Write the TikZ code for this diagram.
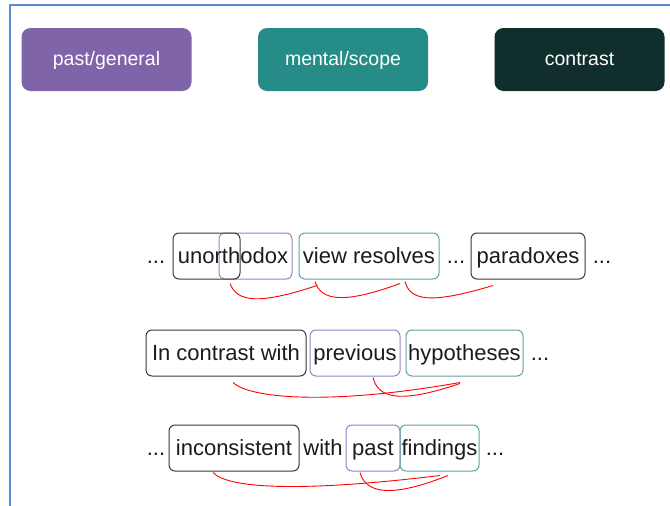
\documentclass[tikz,border=0pt]{standalone}
\usepackage{fontspec}
\setmainfont{Liberation Sans}
\usetikzlibrary{calc}
\definecolor{pastfill}{HTML}{8064AA}
\definecolor{mentalfill}{HTML}{268C87}
\definecolor{contrastfill}{HTML}{0F2E2C}
\definecolor{pastline}{HTML}{9A82C4}
\definecolor{mentalline}{HTML}{5CA5A0}
\definecolor{contrastline}{HTML}{383838}
\definecolor{framecol}{HTML}{5B8BD0}
\definecolor{inkcol}{HTML}{1A1A22}
\begin{document}
\begin{tikzpicture}[x=1pt,y=-1pt,
  legend/.style={rounded corners=9pt, minimum height=63pt, minimum width=170pt,
    inner sep=0pt, text=white, text height=14pt, text depth=3pt,
    font=\fontsize{19.5}{22}\selectfont},
  tok/.style={draw, rounded corners=6pt, line width=1pt, minimum height=46pt,
    inner sep=0pt, text=inkcol, text height=17pt, text depth=3pt,
    font=\fontsize{22}{26}\selectfont},
  word/.style={inner sep=0pt, text=inkcol, text height=17pt, text depth=3pt,
    font=\fontsize{22}{26}\selectfont},
  pastbox/.style={tok, draw=pastline},
  mentalbox/.style={tok, draw=mentalline},
  contrastbox/.style={tok, draw=contrastline},
  arc/.style={red, line width=0.9pt}]
\useasboundingbox (0,0) rectangle (670,506);
% frame
\draw[framecol, line width=1.6pt] (10,506) -- (10,5) -- (670,5);

% legend
\node[legend, fill=pastfill]     (lpast)     at (106.5,59.5) {past/general};
\node[legend, fill=mentalfill]   (lmental)   at (343,59.5)   {mental/scope};
\node[legend, fill=contrastfill] (lcontrast) at (579.5,59.5) {contrast};

% row 1
\node[word] (d1a) at (156,256) {...};
\node[pastbox, minimum width=73pt] (thodox) at (255.5,256) {};
\node[contrastbox, minimum width=67pt] (unorth) at (206.5,256) {};
\node[word] (unortho) at (233,256) {unorthodox};
\node[mentalbox, minimum width=140pt] (view) at (369,256) {view resolves};
\node[word] (d1b) at (456,256) {...};
\node[contrastbox, minimum width=114pt] (para) at (528,256) {paradoxes};
\node[word] (d1c) at (602,256) {...};

% row 2
\node[contrastbox, minimum width=160pt] (incontrast) at (226,353) {In contrast with};
\node[pastbox, minimum width=90pt] (prev) at (355,353) {previous};
\node[mentalbox, minimum width=117pt] (hyp) at (464.5,353) {hypotheses};
\node[word] (d2a) at (540,353) {...};

% row 3
\node[word] (d3a) at (156,448) {...};
\node[contrastbox, minimum width=130pt] (incons) at (234,448) {inconsistent};
\node[word] (with) at (323,448) {with};
\node[pastbox, minimum width=54pt] (past) at (373,448) {past};
\node[mentalbox, minimum width=79pt] (find) at (439.5,448) {findings};
\node[word] (d3b) at (495,448) {...};

% arc end points
\coordinate (r1a) at ([shift={(23.5,4)}]unorth.south);
\coordinate (r1b) at ([shift={(-52,6)}]view.south);
\coordinate (r1c) at ([shift={(-54,2)}]view.south);
\coordinate (r1d) at ([shift={(31,4)}]view.south);
\coordinate (r1e) at ([shift={(36,2)}]view.south);
\coordinate (r1f) at ([shift={(-35,6)}]para.south);
\coordinate (r2a) at ([shift={(7,6)}]incontrast.south);
\coordinate (r2b) at ([shift={(-4.5,6)}]hyp.south);
\coordinate (r2c) at ([shift={(18,1)}]prev.south);
\coordinate (r2d) at ([shift={(-4.5,7)}]hyp.south);
\coordinate (r3a) at ([shift={(-21,1)}]incons.south);
\coordinate (r3b) at ([shift={(0.5,4)}]find.south);
\coordinate (r3c) at ([shift={(-13,1)}]past.south);
\coordinate (r3d) at ([shift={(8.5,4)}]find.south);

% arcs
\draw[arc] (r1a) .. controls +(7,19) and +(-57,19) .. (r1b);
\draw[arc] (r1c) .. controls +(6,19) and +(-57,21) .. (r1d);
\draw[arc] (r1e) .. controls +(5,19) and +(-63,19) .. (r1f);
\draw[arc] (r2a) .. controls +(17,16) and +(-130,23) .. (r2b);
\draw[arc] (r2c) .. controls +(5,20) and +(-62,21) .. (r2d);
\draw[arc] (r3a) .. controls +(15,16) and +(-140,17) .. (r3b);
\draw[arc] (r3c) .. controls +(5,18) and +(-63,25) .. (r3d);
\end{tikzpicture}
\end{document}
